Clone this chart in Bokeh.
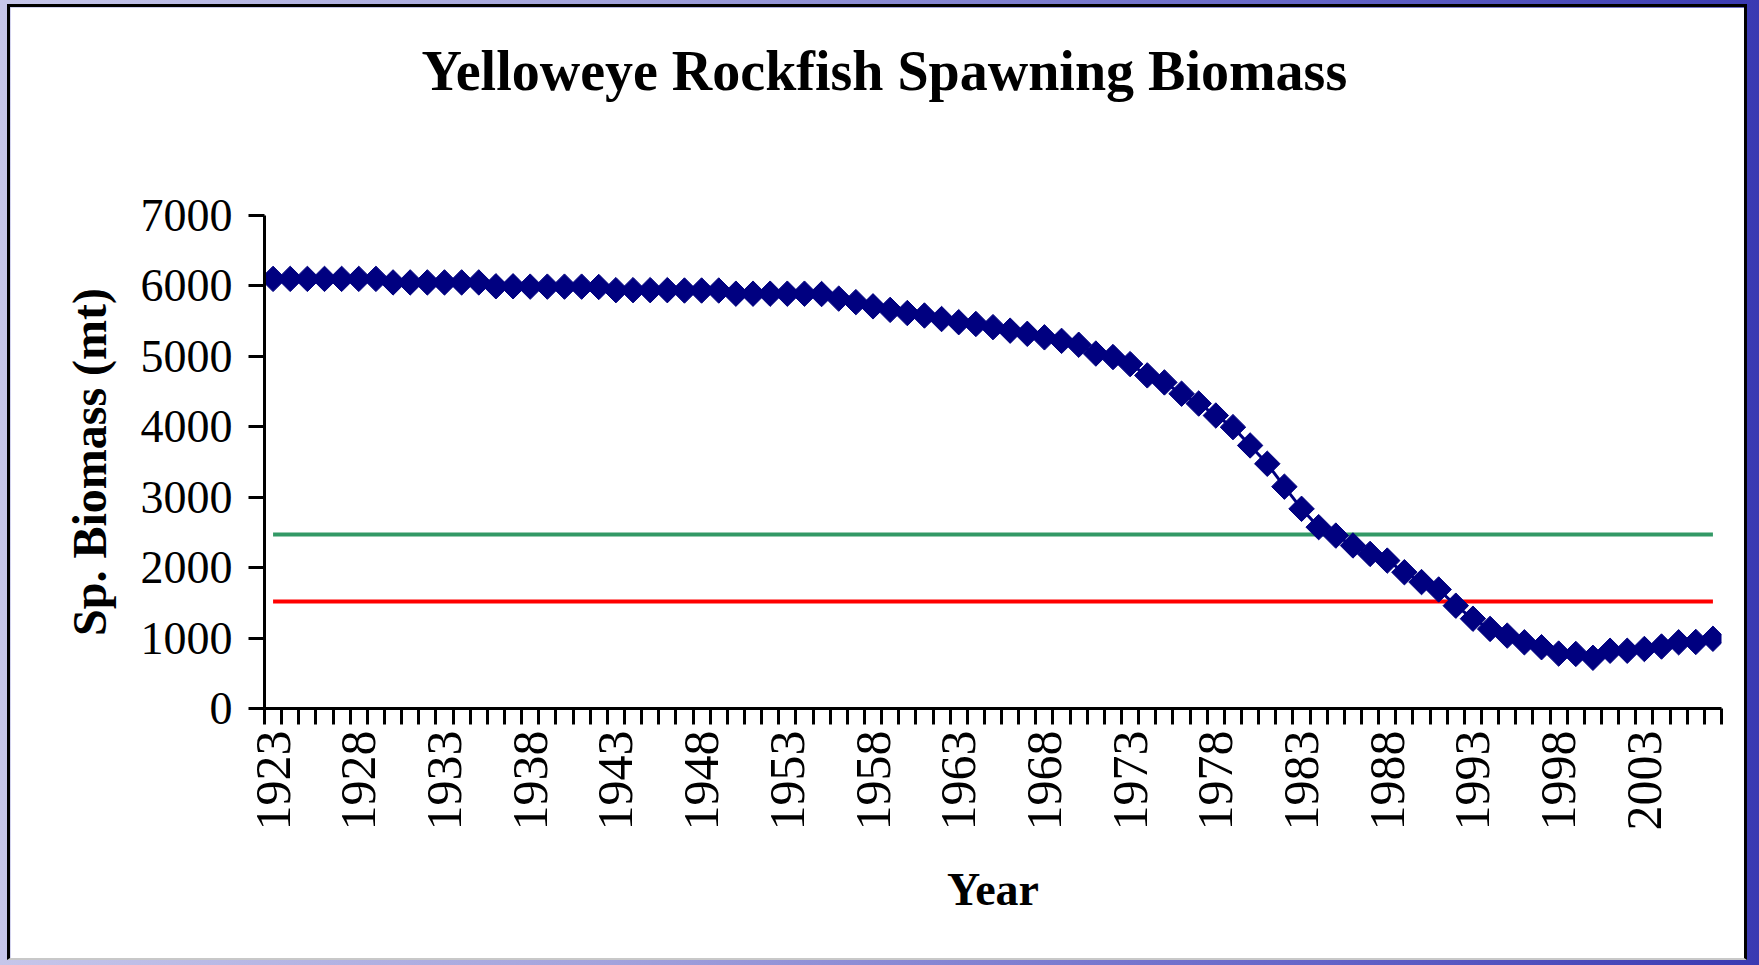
import numpy as np
from bokeh.plotting import figure
from bokeh.models import FixedTicker, Range1d, Spacer, Title
from bokeh.layouts import column, row
from bokeh.embed import file_html
from bokeh.resources import INLINE

# ---- data ----
years = list(range(1923, 2008))
biomass = [
    6100, 6100, 6100, 6100, 6100, 6100, 6100,          # 1923-1929
    6050, 6050, 6050, 6050, 6050, 6050,                # 1930-1935
    5995, 5995, 5990, 5990, 5990, 5990, 5985,          # 1936-1942
    5940, 5940, 5940, 5940, 5935, 5935, 5935,          # 1943-1949
    5890, 5890, 5890, 5890, 5890, 5885,                # 1950-1955
    5820, 5770, 5710, 5660, 5615, 5580, 5530, 5485,    # 1956-1963
    5460, 5415, 5365, 5320, 5270, 5220, 5165, 5040,    # 1964-1971
    4990, 4890, 4730, 4630, 4470, 4330, 4160, 3995,    # 1972-1979
    3735, 3475, 3150, 2835, 2575, 2455, 2315, 2195,    # 1980-1987
    2100, 1935, 1795, 1690, 1460, 1275, 1130, 1035,    # 1988-1995
    940, 870, 780, 775, 720, 820, 820, 845,            # 1996-2003
    880, 940, 945, 990,                                # 2004-2007
]
target_level = 2470      # green reference line
threshold_level = 1520   # red reference line
label_years = list(range(1923, 2004, 5))
y_ticks = list(range(0, 7001, 1000))

TITLE = "Yelloweye Rockfish Spawning Biomass"
FONT = "Liberation Serif"

p = figure(
    width=1740, height=956,
    x_range=Range1d(1922.5, 2007.5), y_range=Range1d(0, 7000),
    output_backend="svg", toolbar_location=None,
    min_border_left=254, min_border_right=29,
    min_border_top=208, min_border_bottom=255,
)
p.background_fill_color = "white"
p.border_fill_color = "white"
p.outline_line_color = "white"
p.outline_line_width = 2
p.xgrid.visible = False
p.ygrid.visible = False

# an invisible spacer title between the frame and the real title
p.add_layout(Title(text=" ", text_font_size="2px", standoff=110), "above")

p.title.text = TITLE
p.title.text_font = FONT
p.title.text_font_size = "56px"
p.title.text_font_style = "bold"
p.title.text_color = "black"
p.title.align = "left"
p.title.offset = 157
p.title.standoff = 0

# reference lines
p.line(years, [target_level] * len(years), line_color="#339966", line_width=4)
p.line(years, [threshold_level] * len(years), line_color="#ff0000", line_width=4)

# series
p.line(years, biomass, line_color="#000080", line_width=3)
p.scatter(years, biomass, marker="square", angle=np.pi / 4, size=18,
          fill_color="#000080", line_color="#000080")

# x axis
xa = p.xaxis[0]
xa.ticker = FixedTicker(ticks=label_years,
                        minor_ticks=[y - 0.5 for y in years] + [years[-1] + 0.5])
xa.major_tick_out = 0
xa.major_tick_in = 0
xa.minor_tick_out = 16
xa.minor_tick_in = 0
xa.minor_tick_line_width = 3
xa.minor_tick_line_color = "black"
xa.axis_line_width = 3
xa.axis_line_color = "black"
xa.major_label_orientation = np.pi / 2
xa.major_label_text_font = FONT
xa.major_label_text_font_size = "50px"
xa.major_label_text_color = "black"
xa.major_label_standoff = 6
xa.axis_label = "Year"
xa.axis_label_text_font = FONT
xa.axis_label_text_font_size = "46px"
xa.axis_label_text_font_style = "bold"
xa.axis_label_text_color = "black"
xa.axis_label_standoff = 30

# y axis
ya = p.yaxis[0]
ya.ticker = FixedTicker(ticks=y_ticks)
ya.major_tick_out = 16
ya.major_tick_in = 0
ya.major_tick_line_width = 3
ya.major_tick_line_color = "black"
ya.minor_tick_out = 0
ya.minor_tick_in = 0
ya.axis_line_width = 3
ya.axis_line_color = "black"
ya.major_label_text_font = FONT
ya.major_label_text_font_size = "46px"
ya.major_label_text_color = "black"
ya.major_label_standoff = 16
ya.axis_label = "Sp. Biomass (mt)"
ya.axis_label_text_font = FONT
ya.axis_label_text_font_size = "48px"
ya.axis_label_text_font_style = "bold"
ya.axis_label_text_color = "black"
ya.axis_label_standoff = 22

p.styles = {"border": "3px solid black", "border-bottom": "2px solid #c8c8c8"}

layout = column(
    Spacer(height=4, width=10),
    row(Spacer(width=7, height=10), p),
    width=1759, height=965,
    styles={"background": "linear-gradient(to right, #c6c6ea 0%, #a2a2dc 35%, #6464c8 75%, #3a3ab2 100%)"},
)

open("out.html", "w").write(file_html(layout, INLINE))
